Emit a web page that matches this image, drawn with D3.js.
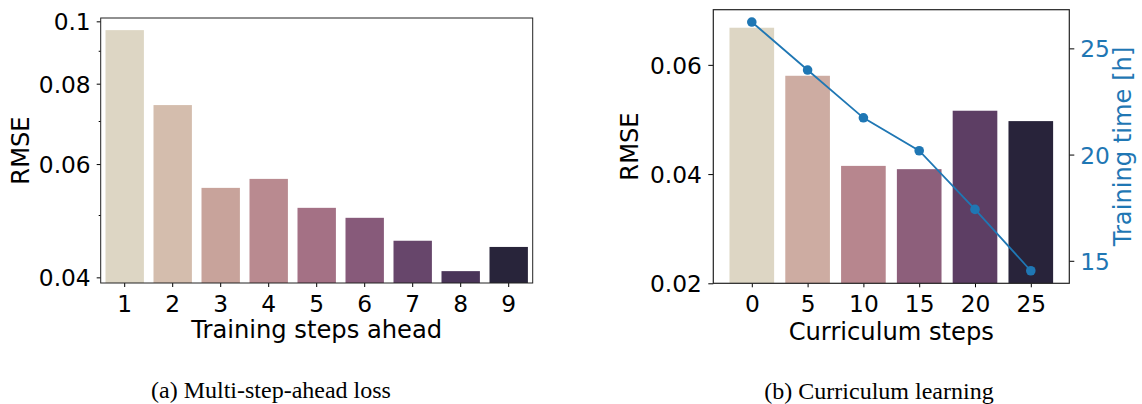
<!DOCTYPE html>
<html>
<head>
<meta charset="utf-8">
<script src="https://cdn.jsdelivr.net/npm/d3@7"></script>
<style>
  html, body { margin: 0; padding: 0; background: #fff; }
  svg { display: block; }
  text { font-family: "DejaVu Sans", sans-serif; }
</style>
</head>
<body>
<svg id="chart" width="1142" height="404"></svg>
<script>
// ---- data ----
const stepsAhead = ["1", "2", "3", "4", "5", "6", "7", "8", "9"];
const rmseSteps = [0.0969, 0.0741, 0.0551, 0.0569, 0.0513, 0.0495, 0.0456, 0.0409, 0.0446];
const leftTicks = [0.04, 0.06, 0.08, 0.1];
const leftTickLabels = ["0.04", "0.06", "0.08", "0.1"];
const leftMinorTicks = [0.05, 0.07, 0.09];

const curriculumSteps = ["0", "5", "10", "15", "20", "25"];
const rmseCurriculum = [0.0668, 0.0580, 0.0415, 0.0409, 0.0516, 0.0497];
const trainingTime = [26.24, 23.98, 21.73, 20.18, 17.42, 14.53];
const rightTicks = [0.02, 0.04, 0.06];
const rightTickLabels = ["0.02", "0.04", "0.06"];
const timeTicks = [15, 20, 25];

const captions = ["(a) Multi-step-ahead loss", "(b) Curriculum learning"];

// ---- styles ----
const paletteLeft = ["#ddd6c4", "#d4bdad", "#c8a39b", "#b98a90", "#a47185", "#875a7a", "#67466b", "#4a3559", "#28243a"];
const paletteRight = ["#ddd6c4", "#cdaca2", "#b7868e", "#8d5f7b", "#5d3e64", "#28233a"];
const lineColor = "#1f77b4";
const fs = 23.3;
const lfs = 24.2;

const svg = d3.select("#chart");

function tickText(g) {
  g.selectAll("text").attr("font-size", fs).attr("font-family", "DejaVu Sans, sans-serif").attr("fill", "#000");
  g.select(".domain").remove();
  g.selectAll("line").attr("stroke", "#000").attr("stroke-width", 1);
}

// ================= Left chart =================
{
  const L = 100.7, R = 532.7, T = 18, B = 283;
  const x = d3.scaleBand().domain(stepsAhead).range([L, R]).paddingInner(0.2).paddingOuter(0.1);
  const y = d3.scaleLog().domain([0.0392, 0.1012]).range([B, T]);
  const g = svg.append("g");

  g.selectAll("rect.bar").data(rmseSteps).enter().append("rect")
    .attr("x", (d, i) => x(stepsAhead[i]))
    .attr("width", x.bandwidth())
    .attr("y", d => y(d))
    .attr("height", d => B - y(d))
    .attr("fill", (d, i) => paletteLeft[i]);

  const ya = g.append("g").attr("transform", `translate(${L},0)`)
    .call(d3.axisLeft(y).tickValues(leftTicks).tickFormat((d, i) => leftTickLabels[i]).tickSize(4).tickPadding(6));
  tickText(ya);
  ya.selectAll("text").attr("dy", "0.37em");
  const yam = g.append("g").attr("transform", `translate(${L},0)`)
    .call(d3.axisLeft(y).tickValues(leftMinorTicks).tickFormat("").tickSize(2));
  tickText(yam);

  const xa = g.append("g").attr("transform", `translate(0,${B})`)
    .call(d3.axisBottom(x).tickSize(4).tickPadding(6));
  tickText(xa);
  xa.selectAll("text").attr("dy", null).attr("y", 28.5);

  g.append("rect").attr("x", L).attr("y", T).attr("width", R - L).attr("height", B - T)
    .attr("fill", "none").attr("stroke", "#222").attr("stroke-width", 1);

  g.append("text").attr("x", (L + R) / 2).attr("y", 338).attr("text-anchor", "middle")
    .attr("font-size", lfs).text("Training steps ahead");
  g.append("text").attr("transform", `translate(29,${(T + B) / 2}) rotate(-90)`)
    .attr("text-anchor", "middle").attr("font-size", lfs).text("RMSE");

  g.append("text").attr("x", 271).attr("y", 397.5).attr("text-anchor", "middle")
    .style("font-family", "'Liberation Serif', serif")
    .attr("font-size", 24).text(captions[0]);
}

// ================= Right chart =================
{
  const L = 713.3, R = 1069.3, T = 9.7, B = 283.3;
  const xi = d3.scaleLinear().domain([-0.69, curriculumSteps.length - 1 + 0.69]).range([L, R]);
  const bw = 0.8 * (xi(1) - xi(0));
  const y = d3.scaleLinear().domain([0.02, 0.0701]).range([B, T]);
  const y2 = d3.scaleLinear().domain([13.94, 26.82]).range([B, T]);
  const g = svg.append("g");

  g.selectAll("rect.bar").data(rmseCurriculum).enter().append("rect")
    .attr("x", (d, i) => xi(i) - bw / 2)
    .attr("width", bw)
    .attr("y", d => y(d))
    .attr("height", d => B - y(d))
    .attr("fill", (d, i) => paletteRight[i]);

  const ya = g.append("g").attr("transform", `translate(${L},0)`)
    .call(d3.axisLeft(y).tickValues(rightTicks).tickFormat((d, i) => rightTickLabels[i]).tickSize(5).tickPadding(6.5));
  tickText(ya);
  ya.selectAll("text").attr("dy", "0.37em");

  const xa = g.append("g").attr("transform", `translate(0,${B})`)
    .call(d3.axisBottom(xi).tickValues(d3.range(curriculumSteps.length)).tickFormat(i => curriculumSteps[i]).tickSize(4).tickPadding(6));
  tickText(xa);
  xa.selectAll("text").attr("dy", null).attr("y", 28.5);

  const y2a = g.append("g").attr("transform", `translate(${R},0)`)
    .call(d3.axisRight(y2).tickValues(timeTicks).tickSize(5).tickPadding(6));
  tickText(y2a);
  y2a.selectAll("text").attr("dy", "0.37em").attr("fill", lineColor);

  const line = d3.line().x((d, i) => xi(i)).y(d => y2(d));
  g.append("path").datum(trainingTime).attr("d", line)
    .attr("fill", "none").attr("stroke", lineColor).attr("stroke-width", 1.8);
  g.selectAll("circle.pt").data(trainingTime).enter().append("circle")
    .attr("cx", (d, i) => xi(i)).attr("cy", d => y2(d)).attr("r", 4.8).attr("fill", lineColor);

  g.append("rect").attr("x", L).attr("y", T).attr("width", R - L).attr("height", B - T)
    .attr("fill", "none").attr("stroke", "#222").attr("stroke-width", 1.2);

  g.append("text").attr("x", (L + R) / 2).attr("y", 340).attr("text-anchor", "middle")
    .attr("font-size", lfs).text("Curriculum steps");
  g.append("text").attr("transform", `translate(638,${(T + B) / 2}) rotate(-90)`)
    .attr("text-anchor", "middle").attr("font-size", lfs).text("RMSE");
  g.append("text").attr("transform", `translate(1131,${(T + B) / 2}) rotate(-90)`)
    .attr("text-anchor", "middle").attr("font-size", lfs).attr("fill", lineColor).text("Training time [h]");

  g.append("text").attr("x", 879).attr("y", 398.5).attr("text-anchor", "middle")
    .style("font-family", "'Liberation Serif', serif")
    .attr("font-size", 24).text(captions[1]);
}
</script>
</body>
</html>
